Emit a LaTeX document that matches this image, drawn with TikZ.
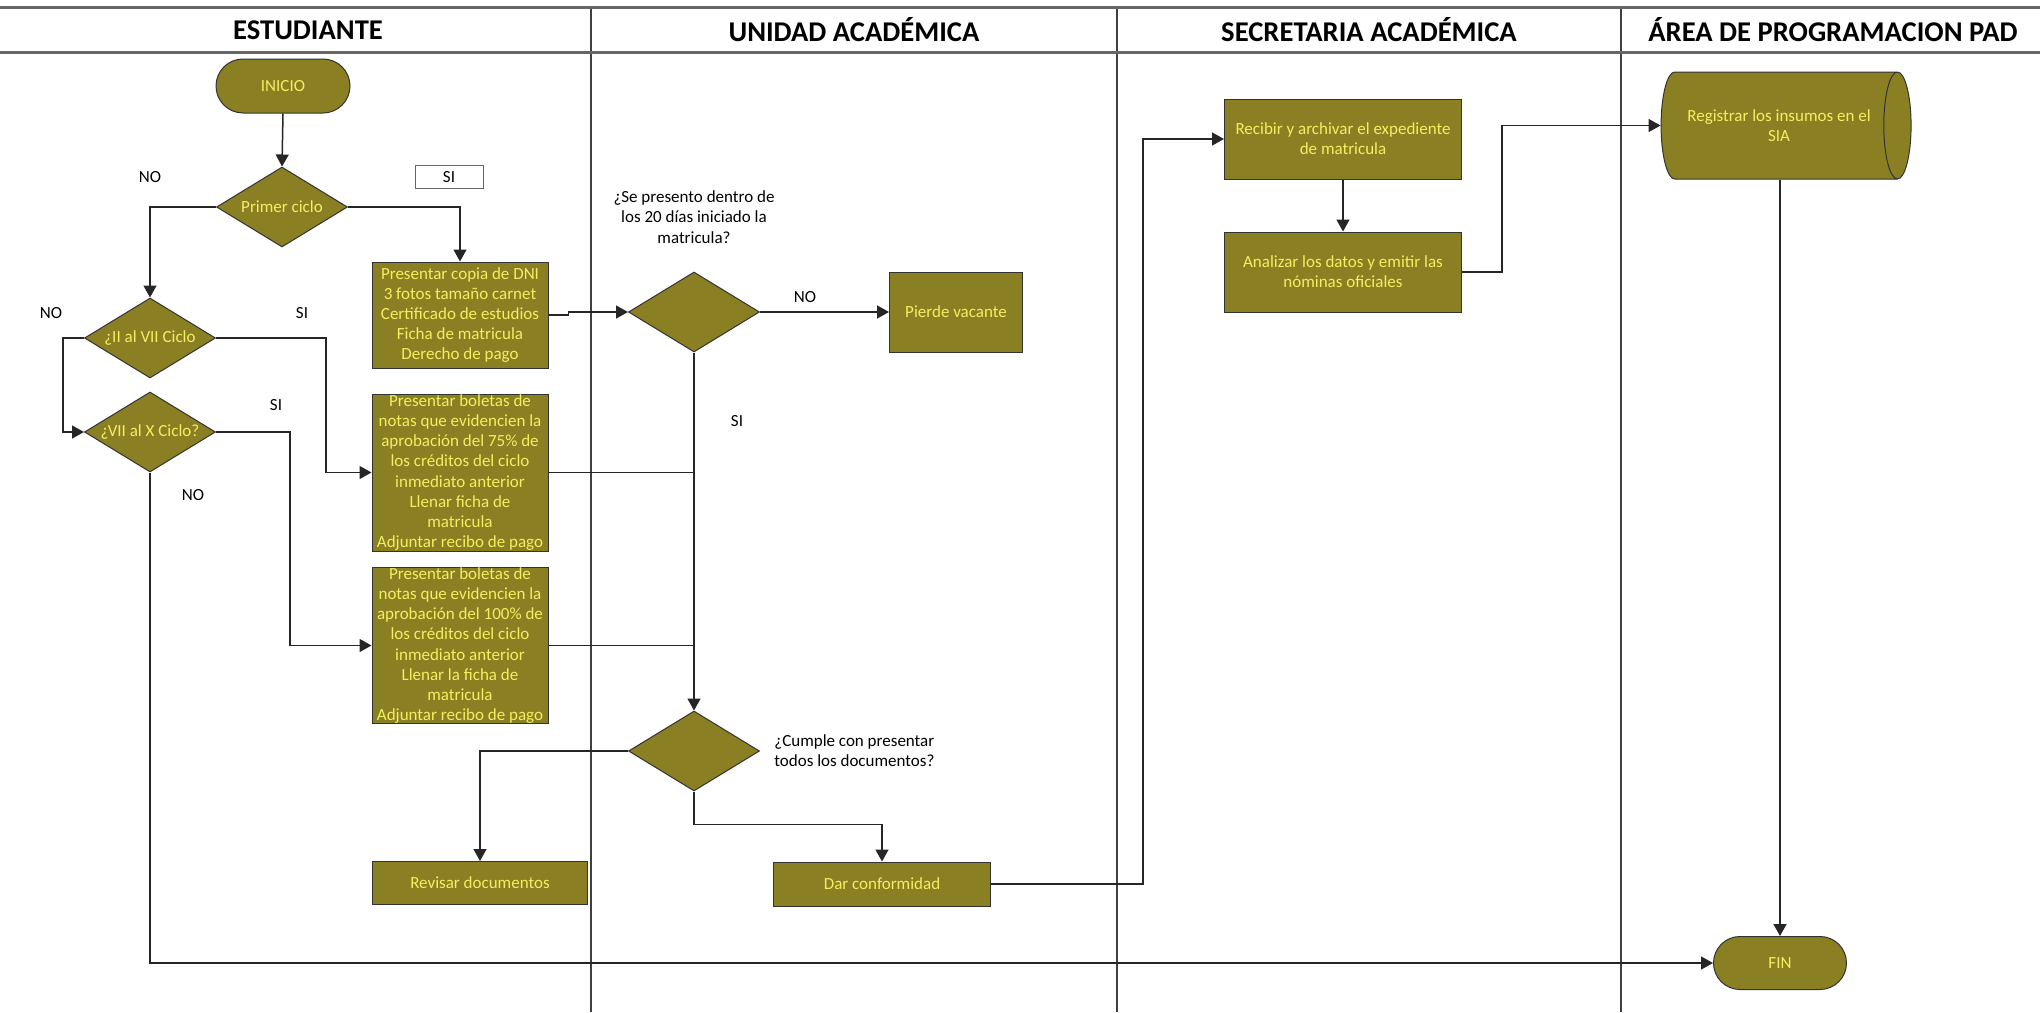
\documentclass[tikz,border=0pt]{standalone}
\usepackage{fontspec}
\setmainfont{Carlito}
\usetikzlibrary{shapes.geometric,shapes.misc,arrows.meta}
\definecolor{boxfill}{HTML}{8A7F22}
\definecolor{boxtext}{HTML}{F2F060}
\begin{document}
\begin{tikzpicture}[x=0.5pt,y=-0.5pt,
  txt/.style={font=\fontsize{8.5}{10.1}\selectfont},
  proc/.style={rectangle, draw=black!80, line width=0.5pt, fill=boxfill, text=boxtext, txt, align=center, inner sep=0pt},
  dec/.style={diamond, aspect=1.64, draw=black!80, line width=0.5pt, fill=boxfill, text=boxtext, txt, inner sep=0pt, minimum width=65.5pt, minimum height=40pt},
  term/.style={rounded rectangle, draw=black!80, line width=0.5pt, fill=boxfill, text=boxtext, txt, inner sep=0pt},
  lbl/.style={txt, text=black, inner sep=0pt},
  arr/.style={draw=black!85, line width=0.75pt, -{Triangle[length=6pt,width=6.5pt]}},
  con/.style={draw=black!85, line width=0.75pt},
  lane/.style={black!75, line width=0.9pt},
  hline/.style={black!60, line width=1.5pt},
  laneTitle/.style={font=\fontsize{14.3}{16}\selectfont\bfseries, inner sep=0pt}
]
\useasboundingbox (0,0) rectangle (2040,1012);
% lanes
\draw[lane] (591,7) -- (591,1012);
\draw[lane] (1117,7) -- (1117,1012);
\draw[lane] (1621,7) -- (1621,1012);
\draw[hline] (0,7) -- (2040,7);
\draw[hline] (0,52) -- (2040,52);
\node[laneTitle] (h1) at (308,30) {ESTUDIANTE};
\node[laneTitle] (h2) at (854,30) {UNIDAD ACADÉMICA};
\node[laneTitle] (h3) at (1369,30) {SECRETARIA ACADÉMICA};
\node[laneTitle] (h4) at (1833,30) {ÁREA DE PROGRAMACION PAD};

% nodes
\node[term, minimum width=67pt, minimum height=27pt] (inicio) at (283,86) {INICIO};
\node[dec] (d0) at (282,207) {Primer ciclo};
\node[dec] (d1) at (150,338) {¿II al VII Ciclo};
\node[dec] (d2) at (150,432) {¿VII al X Ciclo?};
\node[proc, minimum width=88pt, minimum height=53pt] (bdni) at (460,315) {Presentar copia de DNI\\3 fotos tamaño carnet\\Certificado de estudios\\Ficha de matricula\\Derecho de pago};
\node[proc, minimum width=88pt, minimum height=78.5pt] (b75) at (460,472.5) {Presentar boletas de\\notas que evidencien la\\aprobación del 75\% de\\los créditos del ciclo\\inmediato anterior\\Llenar ficha de\\matricula\\Adjuntar recibo de pago};
\node[proc, minimum width=88pt, minimum height=77.5pt] (b100) at (460,645.5) {Presentar boletas de\\notas que evidencien la\\aprobación del 100\% de\\los créditos del ciclo\\inmediato anterior\\Llenar la ficha de\\matricula\\Adjuntar recibo de pago};
\node[dec] (q1) at (694,312) {};
\node[lbl, align=center] (q1t) at (694,217) {¿Se presento dentro de\\los 20 días iniciado la\\matricula?};
\node[proc, minimum width=66.5pt, minimum height=40pt] (pierde) at (956,312) {Pierde vacante};
\node[dec] (q2) at (694,751) {};
\node[lbl, align=left, anchor=west] (q2t) at (774,751) {¿Cumple con presentar\\todos los documentos?};
\node[proc, minimum width=107.5pt, minimum height=21.5pt] (revisar) at (480,883) {Revisar documentos};
\node[proc, minimum width=108.5pt, minimum height=22pt] (dar) at (882,884) {Dar conformidad};
\node[proc, minimum width=118.5pt, minimum height=40pt] (recibir) at (1343,139) {Recibir y archivar el expediente\\de matricula};
\node[proc, minimum width=118.5pt, minimum height=40pt] (analizar) at (1343,272) {Analizar los datos y emitir las\\nóminas oficiales};
\node[cylinder, shape border rotate=0, aspect=0.85, draw=black!80, line width=0.5pt, fill=boxfill, text=boxtext, txt, align=center, inner sep=0pt, minimum height=125pt, minimum width=53.5pt] (registrar) at (1779,125.5) {Registrar los insumos en el\\SIA};
\node[term, minimum width=66.5pt, minimum height=26.5pt] (fin) at (1780,963) {FIN};

% labels
\node[lbl] (l1) at (150,177) {NO};
\node[rectangle, draw=black!60, line width=0.5pt, fill=white, minimum width=34pt, minimum height=11.5pt, txt, inner sep=0pt] (sibox) at (449,177) {SI};
\node[lbl] (l2) at (51,313) {NO};
\node[lbl] (l3) at (302,313) {SI};
\node[lbl] (l4) at (276,405) {SI};
\node[lbl] (l5) at (193,495) {NO};
\node[lbl] (l6) at (805,297) {NO};
\node[lbl] (l7) at (737,421) {SI};

% connectors
\draw[arr] (inicio.south) -- (d0.north);
\draw[arr] (d0.west) -| (d1.north);
\draw[arr] (d0.east) -| (bdni.north);
\draw[arr] (d1.west) -- ++(-21,0) |- (d2.west);
\draw[arr] (d1.east) -- ++(110,0) |- (b75.west);
\draw[arr] (d2.east) -- ++(74,0) |- (b100.west);
\draw[arr] (d2.south) |- (fin.west);
\draw[arr] (bdni.east) -- ++(20,0) |- (q1.west);
\draw[arr] (q1.east) -- (pierde.west);
\draw[arr] (q1.south) -- (q2.north);
\draw[con] (b75.east) -- (b75.east -| q1.south);
\draw[con] (b100.east) -- (b100.east -| q1.south);
\draw[arr] (q2.west) -| (revisar.north);
\draw[arr] (q2.south) -- ++(0,33) -| (dar.north);
\draw[arr] (dar.east) -- ++(152,0) |- (recibir.west);
\draw[arr] (recibir.south) -- (analizar.north);
\draw[arr] (analizar.east) -- ++(40,0) |- (registrar.west);
\draw[arr] (registrar.south -| fin.north) -- (fin.north);
\end{tikzpicture}
\end{document}
